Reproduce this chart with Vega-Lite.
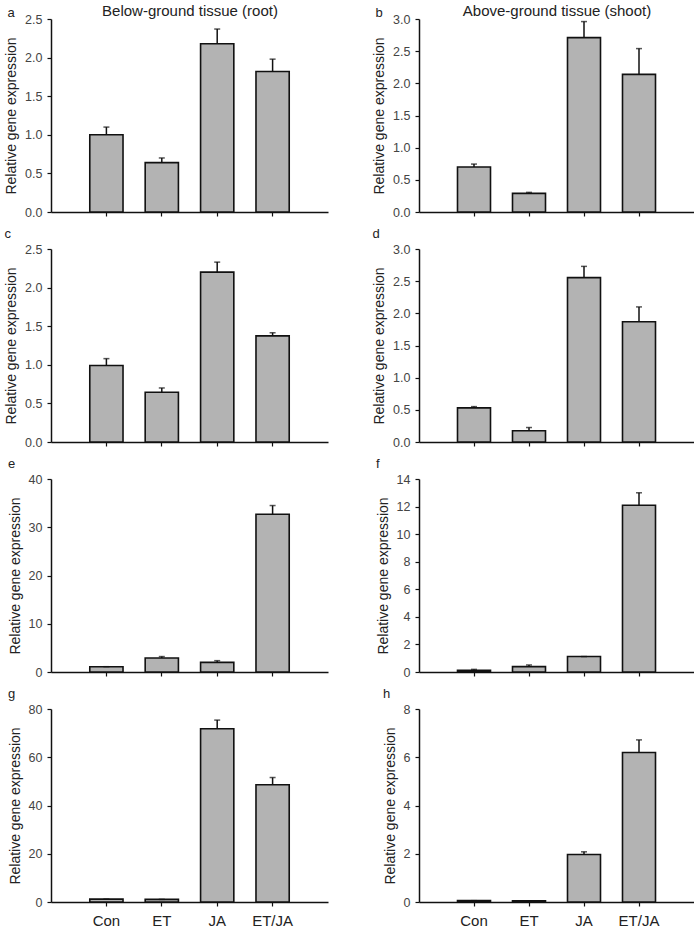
{
  "$schema": "https://vega.github.io/schema/vega-lite/v6.json",
  "padding": {"left": 4, "top": 3, "right": 0, "bottom": 0},
  "background": "white",
  "data": {"values": [
    {"panel": "a", "treatment": "Con", "mean": 1.00, "upper": 1.10},
    {"panel": "a", "treatment": "ET", "mean": 0.64, "upper": 0.70},
    {"panel": "a", "treatment": "JA", "mean": 2.18, "upper": 2.37},
    {"panel": "a", "treatment": "ET/JA", "mean": 1.82, "upper": 1.98},
    {"panel": "b", "treatment": "Con", "mean": 0.70, "upper": 0.745},
    {"panel": "b", "treatment": "ET", "mean": 0.29, "upper": 0.305},
    {"panel": "b", "treatment": "JA", "mean": 2.71, "upper": 2.96},
    {"panel": "b", "treatment": "ET/JA", "mean": 2.14, "upper": 2.54},
    {"panel": "c", "treatment": "Con", "mean": 0.99, "upper": 1.08},
    {"panel": "c", "treatment": "ET", "mean": 0.645, "upper": 0.70},
    {"panel": "c", "treatment": "JA", "mean": 2.20, "upper": 2.33},
    {"panel": "c", "treatment": "ET/JA", "mean": 1.375, "upper": 1.415},
    {"panel": "d", "treatment": "Con", "mean": 0.53, "upper": 0.55},
    {"panel": "d", "treatment": "ET", "mean": 0.175, "upper": 0.225},
    {"panel": "d", "treatment": "JA", "mean": 2.555, "upper": 2.73},
    {"panel": "d", "treatment": "ET/JA", "mean": 1.87, "upper": 2.10},
    {"panel": "e", "treatment": "Con", "mean": 1.1, "upper": 1.1},
    {"panel": "e", "treatment": "ET", "mean": 2.9, "upper": 3.2},
    {"panel": "e", "treatment": "JA", "mean": 2.0, "upper": 2.35},
    {"panel": "e", "treatment": "ET/JA", "mean": 32.7, "upper": 34.5},
    {"panel": "f", "treatment": "Con", "mean": 0.12, "upper": 0.19},
    {"panel": "f", "treatment": "ET", "mean": 0.39, "upper": 0.51},
    {"panel": "f", "treatment": "JA", "mean": 1.12, "upper": 1.12},
    {"panel": "f", "treatment": "ET/JA", "mean": 12.1, "upper": 13.0},
    {"panel": "g", "treatment": "Con", "mean": 1.2, "upper": 1.2},
    {"panel": "g", "treatment": "ET", "mean": 1.1, "upper": 1.1},
    {"panel": "g", "treatment": "JA", "mean": 71.8, "upper": 75.4},
    {"panel": "g", "treatment": "ET/JA", "mean": 48.6, "upper": 51.6},
    {"panel": "h", "treatment": "Con", "mean": 0.055, "upper": 0.055},
    {"panel": "h", "treatment": "ET", "mean": 0.05, "upper": 0.05},
    {"panel": "h", "treatment": "JA", "mean": 1.97, "upper": 2.08},
    {"panel": "h", "treatment": "ET/JA", "mean": 6.2, "upper": 6.72}
  ]},
  "columns": 2,
  "spacing": {"row": 37, "column": 91},
  "bounds": "flush",
  "concat": [
    {
      "width": 277, "height": 193,
      "title": {"text": "a", "offset": -17, "dx": 3},
      "transform": [{"filter": "datum.panel === 'a'"}],
      "resolve": {"axis": {"x": "independent"}},
      "layer": [
        {"mark": {"type": "bar", "fill": "#b3b3b3", "stroke": "#111", "strokeWidth": 1.6},
         "encoding": {
           "x": {"field": "treatment", "type": "nominal", "sort": ["Con", "ET", "JA", "ET/JA"], "scale": {"paddingInner": 0.4, "paddingOuter": 0.7}, "axis": {"orient": "bottom", "labels": false, "title": null}},
           "y": {"field": "mean", "type": "quantitative", "scale": {"domain": [0, 2.5], "nice": false}, "axis": {"values": [0, 0.5, 1, 1.5, 2, 2.5], "format": ".1f", "title": "Relative gene expression"}}}},
        {"mark": {"type": "rule", "stroke": "#111", "strokeWidth": 1.5},
         "encoding": {
           "x": {"field": "treatment", "type": "nominal", "sort": ["Con", "ET", "JA", "ET/JA"], "axis": {"orient": "top", "labels": false, "ticks": false, "domain": false, "title": "Below-ground tissue (root)", "titleFontSize": 15, "titlePadding": 1}},
           "y": {"field": "mean", "type": "quantitative", "axis": {"values": [0, 0.5, 1, 1.5, 2, 2.5], "format": ".1f", "title": "Relative gene expression"}},
           "y2": {"field": "upper"}}},
        {"mark": {"type": "tick", "color": "#111", "thickness": 1.5, "size": 6},
         "encoding": {
           "x": {"field": "treatment", "type": "nominal", "sort": ["Con", "ET", "JA", "ET/JA"], "axis": null},
           "y": {"field": "upper", "type": "quantitative", "axis": {"values": [0, 0.5, 1, 1.5, 2, 2.5], "format": ".1f", "title": "Relative gene expression"}}}}
      ]
    },
    {
      "width": 275, "height": 193,
      "title": {"text": "b", "offset": -17, "dx": 3},
      "transform": [{"filter": "datum.panel === 'b'"}],
      "resolve": {"axis": {"x": "independent"}},
      "layer": [
        {"mark": {"type": "bar", "fill": "#b3b3b3", "stroke": "#111", "strokeWidth": 1.6},
         "encoding": {
           "x": {"field": "treatment", "type": "nominal", "sort": ["Con", "ET", "JA", "ET/JA"], "scale": {"paddingInner": 0.4, "paddingOuter": 0.7}, "axis": {"orient": "bottom", "labels": false, "title": null}},
           "y": {"field": "mean", "type": "quantitative", "scale": {"domain": [0, 3], "nice": false}, "axis": {"values": [0, 0.5, 1, 1.5, 2, 2.5, 3], "format": ".1f", "title": "Relative gene expression"}}}},
        {"mark": {"type": "rule", "stroke": "#111", "strokeWidth": 1.5},
         "encoding": {
           "x": {"field": "treatment", "type": "nominal", "sort": ["Con", "ET", "JA", "ET/JA"], "axis": {"orient": "top", "labels": false, "ticks": false, "domain": false, "title": "Above-ground tissue (shoot)", "titleFontSize": 15, "titlePadding": 1}},
           "y": {"field": "mean", "type": "quantitative", "axis": {"values": [0, 0.5, 1, 1.5, 2, 2.5, 3], "format": ".1f", "title": "Relative gene expression"}},
           "y2": {"field": "upper"}}},
        {"mark": {"type": "tick", "color": "#111", "thickness": 1.5, "size": 6},
         "encoding": {
           "x": {"field": "treatment", "type": "nominal", "sort": ["Con", "ET", "JA", "ET/JA"], "axis": null},
           "y": {"field": "upper", "type": "quantitative", "axis": {"values": [0, 0.5, 1, 1.5, 2, 2.5, 3], "format": ".1f", "title": "Relative gene expression"}}}}
      ]
    },
    {
      "width": 277, "height": 193,
      "title": {"text": "c"},
      "transform": [{"filter": "datum.panel === 'c'"}],
      "encoding": {
        "x": {"field": "treatment", "type": "nominal", "sort": ["Con", "ET", "JA", "ET/JA"], "scale": {"paddingInner": 0.4, "paddingOuter": 0.7}, "axis": {"labels": false, "title": null}}
      },
      "layer": [
        {"mark": {"type": "bar", "fill": "#b3b3b3", "stroke": "#111", "strokeWidth": 1.6},
         "encoding": {"y": {"field": "mean", "type": "quantitative", "scale": {"domain": [0, 2.5], "nice": false}, "axis": {"values": [0, 0.5, 1, 1.5, 2, 2.5], "format": ".1f", "title": "Relative gene expression"}}}},
        {"mark": {"type": "rule", "stroke": "#111", "strokeWidth": 1.5},
         "encoding": {"y": {"field": "mean", "type": "quantitative", "axis": {"values": [0, 0.5, 1, 1.5, 2, 2.5], "format": ".1f", "title": "Relative gene expression"}}, "y2": {"field": "upper"}}},
        {"mark": {"type": "tick", "color": "#111", "thickness": 1.5, "size": 6},
         "encoding": {"y": {"field": "upper", "type": "quantitative", "axis": {"values": [0, 0.5, 1, 1.5, 2, 2.5], "format": ".1f", "title": "Relative gene expression"}}}}
      ]
    },
    {
      "width": 275, "height": 193,
      "title": {"text": "d"},
      "transform": [{"filter": "datum.panel === 'd'"}],
      "encoding": {
        "x": {"field": "treatment", "type": "nominal", "sort": ["Con", "ET", "JA", "ET/JA"], "scale": {"paddingInner": 0.4, "paddingOuter": 0.7}, "axis": {"labels": false, "title": null}}
      },
      "layer": [
        {"mark": {"type": "bar", "fill": "#b3b3b3", "stroke": "#111", "strokeWidth": 1.6},
         "encoding": {"y": {"field": "mean", "type": "quantitative", "scale": {"domain": [0, 3], "nice": false}, "axis": {"values": [0, 0.5, 1, 1.5, 2, 2.5, 3], "format": ".1f", "title": "Relative gene expression"}}}},
        {"mark": {"type": "rule", "stroke": "#111", "strokeWidth": 1.5},
         "encoding": {"y": {"field": "mean", "type": "quantitative", "axis": {"values": [0, 0.5, 1, 1.5, 2, 2.5, 3], "format": ".1f", "title": "Relative gene expression"}}, "y2": {"field": "upper"}}},
        {"mark": {"type": "tick", "color": "#111", "thickness": 1.5, "size": 6},
         "encoding": {"y": {"field": "upper", "type": "quantitative", "axis": {"values": [0, 0.5, 1, 1.5, 2, 2.5, 3], "format": ".1f", "title": "Relative gene expression"}}}}
      ]
    },
    {
      "width": 277, "height": 193,
      "title": {"text": "e"},
      "transform": [{"filter": "datum.panel === 'e'"}],
      "encoding": {
        "x": {"field": "treatment", "type": "nominal", "sort": ["Con", "ET", "JA", "ET/JA"], "scale": {"paddingInner": 0.4, "paddingOuter": 0.7}, "axis": {"labels": false, "title": null}}
      },
      "layer": [
        {"mark": {"type": "bar", "fill": "#b3b3b3", "stroke": "#111", "strokeWidth": 1.6},
         "encoding": {"y": {"field": "mean", "type": "quantitative", "scale": {"domain": [0, 40], "nice": false}, "axis": {"values": [0, 10, 20, 30, 40], "title": "Relative gene expression"}}}},
        {"mark": {"type": "rule", "stroke": "#111", "strokeWidth": 1.5},
         "encoding": {"y": {"field": "mean", "type": "quantitative", "axis": {"values": [0, 10, 20, 30, 40], "title": "Relative gene expression"}}, "y2": {"field": "upper"}}},
        {"mark": {"type": "tick", "color": "#111", "thickness": 1.5, "size": 6},
         "encoding": {"y": {"field": "upper", "type": "quantitative", "axis": {"values": [0, 10, 20, 30, 40], "title": "Relative gene expression"}}}}
      ]
    },
    {
      "width": 275, "height": 193,
      "title": {"text": "f"},
      "transform": [{"filter": "datum.panel === 'f'"}],
      "encoding": {
        "x": {"field": "treatment", "type": "nominal", "sort": ["Con", "ET", "JA", "ET/JA"], "scale": {"paddingInner": 0.4, "paddingOuter": 0.7}, "axis": {"labels": false, "title": null}}
      },
      "layer": [
        {"mark": {"type": "bar", "fill": "#b3b3b3", "stroke": "#111", "strokeWidth": 1.6},
         "encoding": {"y": {"field": "mean", "type": "quantitative", "scale": {"domain": [0, 14], "nice": false}, "axis": {"values": [0, 2, 4, 6, 8, 10, 12, 14], "title": "Relative gene expression"}}}},
        {"mark": {"type": "rule", "stroke": "#111", "strokeWidth": 1.5},
         "encoding": {"y": {"field": "mean", "type": "quantitative", "axis": {"values": [0, 2, 4, 6, 8, 10, 12, 14], "title": "Relative gene expression"}}, "y2": {"field": "upper"}}},
        {"mark": {"type": "tick", "color": "#111", "thickness": 1.5, "size": 6},
         "encoding": {"y": {"field": "upper", "type": "quantitative", "axis": {"values": [0, 2, 4, 6, 8, 10, 12, 14], "title": "Relative gene expression"}}}}
      ]
    },
    {
      "width": 277, "height": 193,
      "title": {"text": "g"},
      "transform": [{"filter": "datum.panel === 'g'"}],
      "encoding": {
        "x": {"field": "treatment", "type": "nominal", "sort": ["Con", "ET", "JA", "ET/JA"], "scale": {"paddingInner": 0.4, "paddingOuter": 0.7}, "axis": {"labels": true, "title": null, "labelAngle": 0}}
      },
      "layer": [
        {"mark": {"type": "bar", "fill": "#b3b3b3", "stroke": "#111", "strokeWidth": 1.6},
         "encoding": {"y": {"field": "mean", "type": "quantitative", "scale": {"domain": [0, 80], "nice": false}, "axis": {"values": [0, 20, 40, 60, 80], "title": "Relative gene expression"}}}},
        {"mark": {"type": "rule", "stroke": "#111", "strokeWidth": 1.5},
         "encoding": {"y": {"field": "mean", "type": "quantitative", "axis": {"values": [0, 20, 40, 60, 80], "title": "Relative gene expression"}}, "y2": {"field": "upper"}}},
        {"mark": {"type": "tick", "color": "#111", "thickness": 1.5, "size": 6},
         "encoding": {"y": {"field": "upper", "type": "quantitative", "axis": {"values": [0, 20, 40, 60, 80], "title": "Relative gene expression"}}}}
      ]
    },
    {
      "width": 275, "height": 193,
      "title": {"text": "h"},
      "transform": [{"filter": "datum.panel === 'h'"}],
      "encoding": {
        "x": {"field": "treatment", "type": "nominal", "sort": ["Con", "ET", "JA", "ET/JA"], "scale": {"paddingInner": 0.4, "paddingOuter": 0.7}, "axis": {"labels": true, "title": null, "labelAngle": 0}}
      },
      "layer": [
        {"mark": {"type": "bar", "fill": "#b3b3b3", "stroke": "#111", "strokeWidth": 1.6},
         "encoding": {"y": {"field": "mean", "type": "quantitative", "scale": {"domain": [0, 8], "nice": false}, "axis": {"values": [0, 2, 4, 6, 8], "title": "Relative gene expression"}}}},
        {"mark": {"type": "rule", "stroke": "#111", "strokeWidth": 1.5},
         "encoding": {"y": {"field": "mean", "type": "quantitative", "axis": {"values": [0, 2, 4, 6, 8], "title": "Relative gene expression"}}, "y2": {"field": "upper"}}},
        {"mark": {"type": "tick", "color": "#111", "thickness": 1.5, "size": 6},
         "encoding": {"y": {"field": "upper", "type": "quantitative", "axis": {"values": [0, 2, 4, 6, 8], "title": "Relative gene expression"}}}}
      ]
    }
  ],
  "config": {
    "font": "Liberation Sans",
    "view": {"stroke": null},
    "axis": {"grid": false, "domainColor": "#111", "domainWidth": 1.5, "tickColor": "#111", "tickWidth": 1.2, "labelColor": "#444", "titleColor": "#222", "titleFontWeight": "normal"},
    "axisY": {"tickSize": 4, "labelFontSize": 12.5, "labelPadding": 5, "titleFontSize": 14, "titlePadding": 6},
    "axisX": {"tickSize": 4, "labelFontSize": 15, "labelPadding": 7, "labelColor": "#222"},
    "title": {"fontSize": 13, "fontWeight": "normal", "anchor": "start", "frame": "bounds", "color": "#222", "offset": 2}
  }
}
